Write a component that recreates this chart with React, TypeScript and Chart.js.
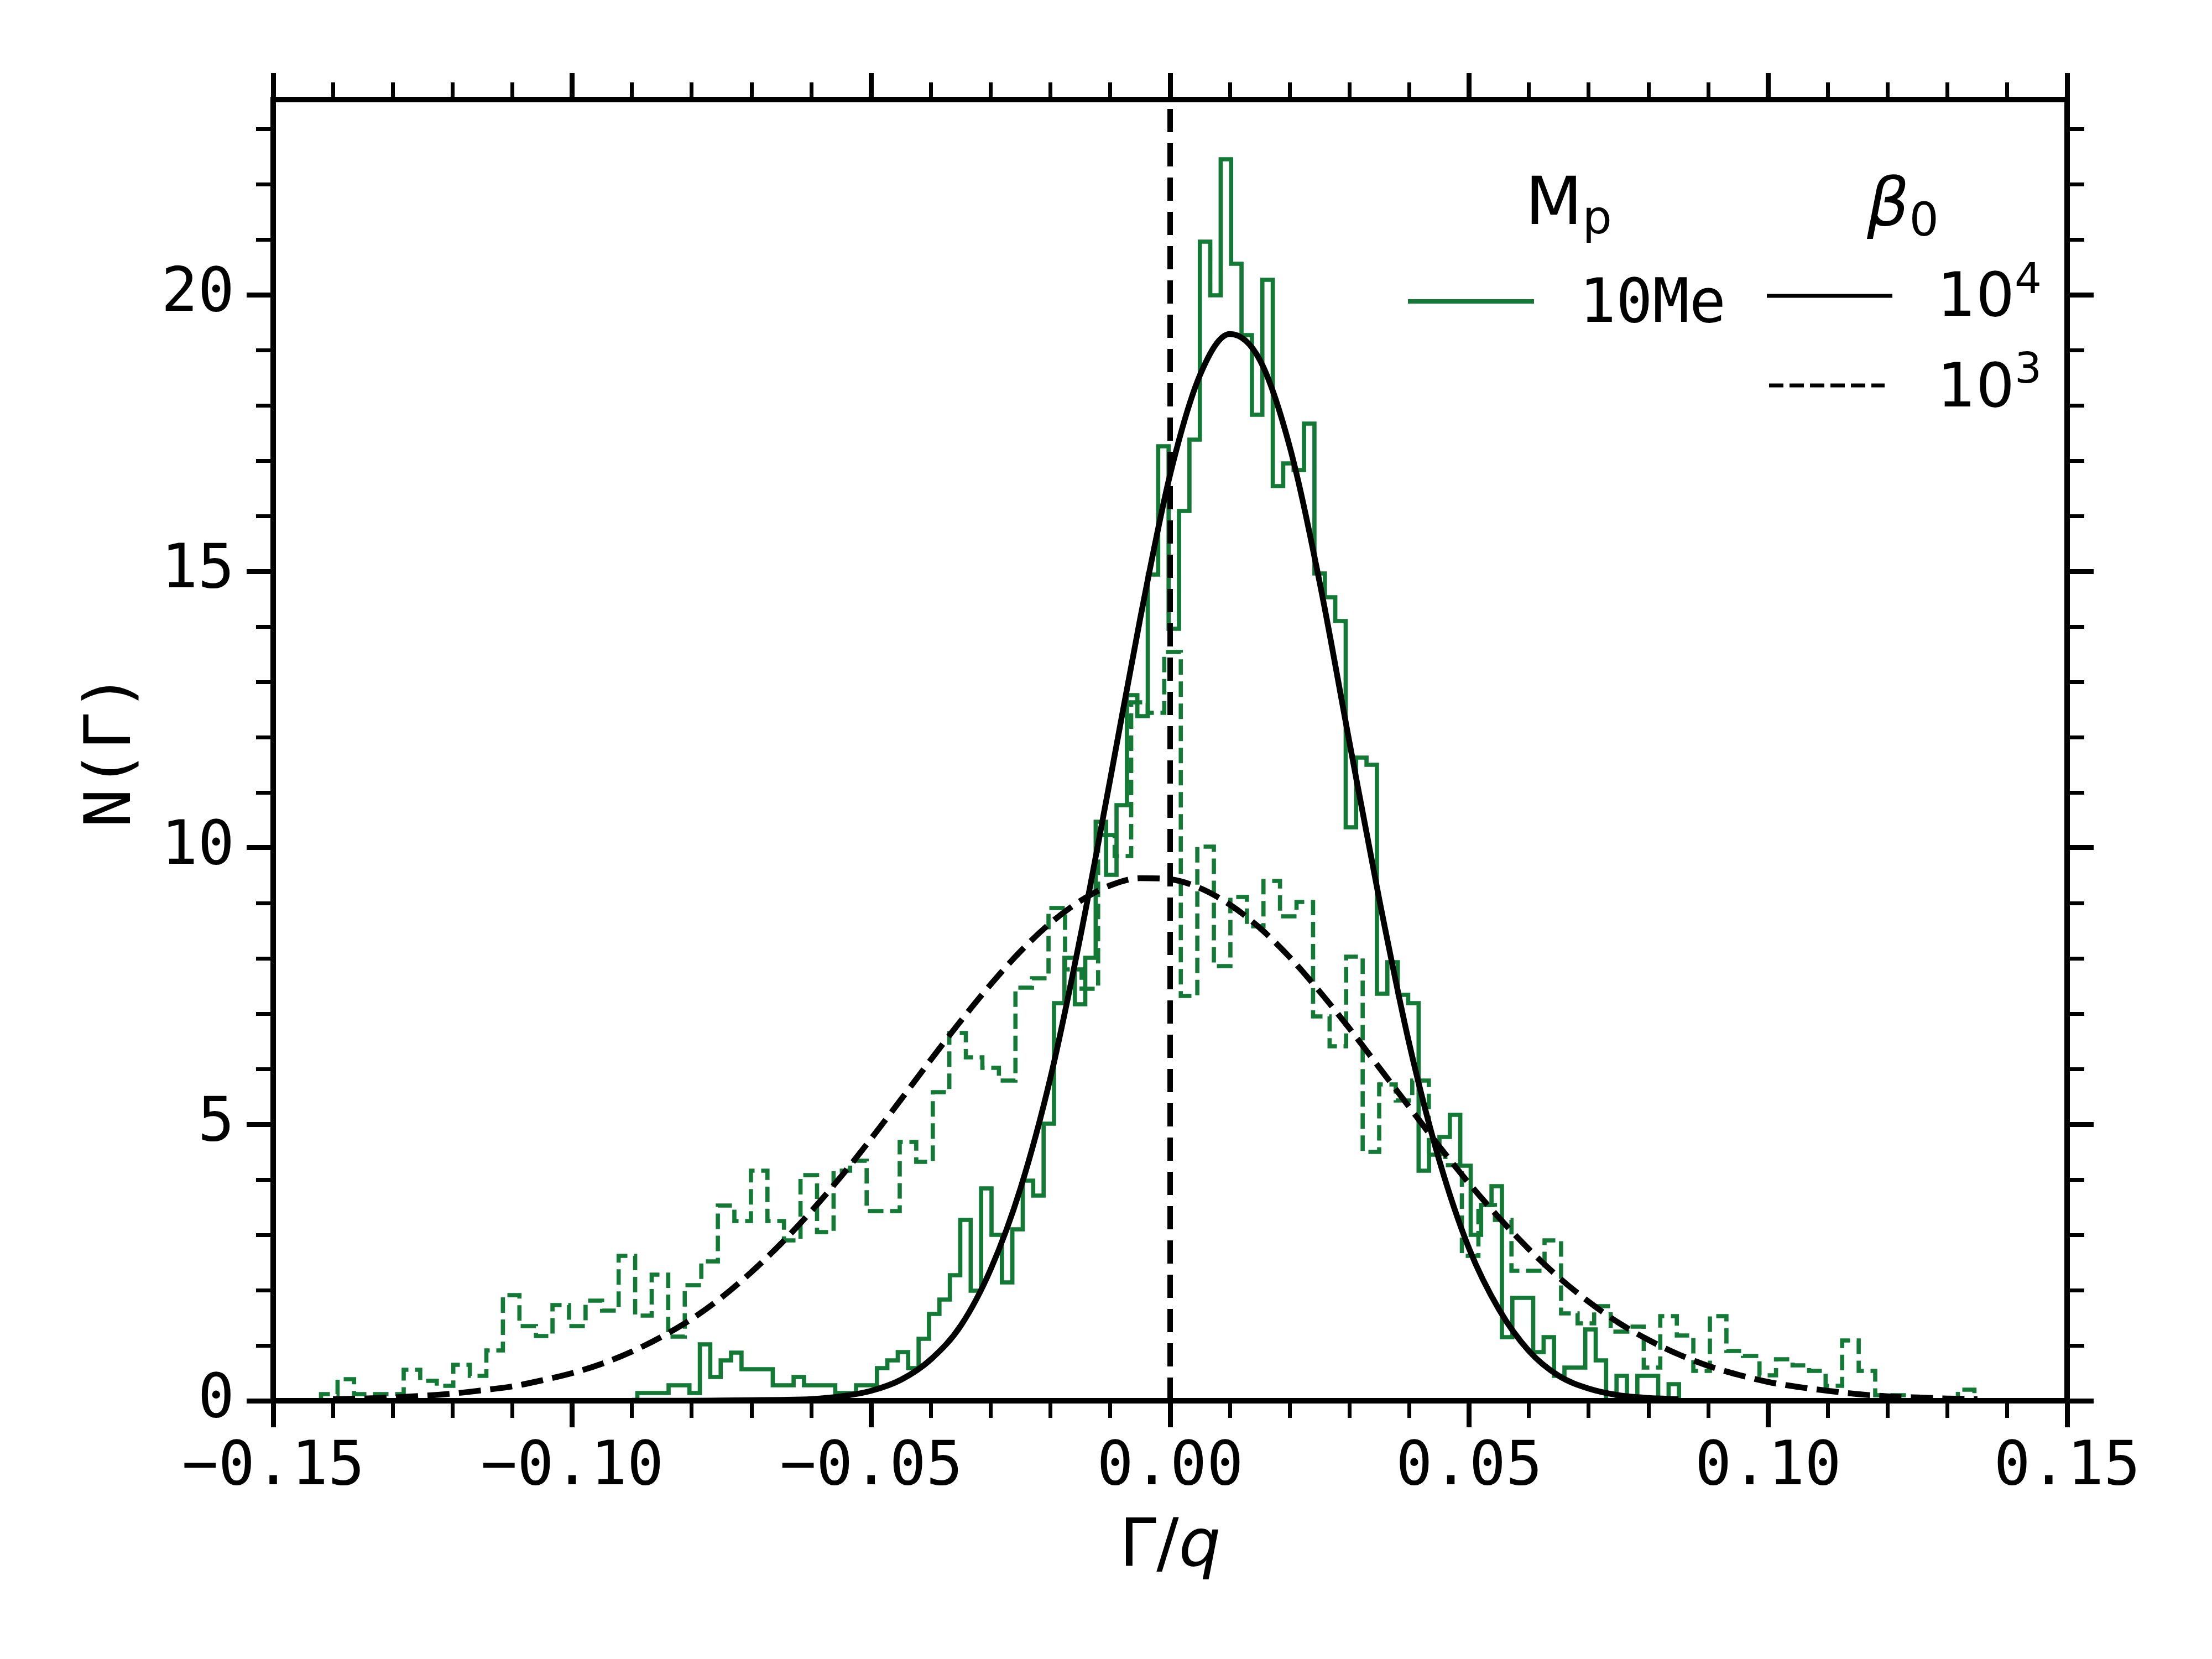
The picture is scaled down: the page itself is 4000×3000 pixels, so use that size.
import React, { useEffect, useRef } from 'react';
import { Chart, registerables } from 'chart.js';

Chart.register(...registerables);

// axis ranges
const X_MIN = -0.15;
const X_MAX = 0.15;
const Y_MIN = 0;
const Y_MAX = 23.53;

// tick positions
const X_MAJOR = [-0.15, -0.1, -0.05, 0, 0.05, 0.1, 0.15];
const X_MINOR = [
  -0.14, -0.13, -0.12, -0.11, -0.09, -0.08, -0.07, -0.06, -0.04, -0.03, -0.02, -0.01,
  0.01, 0.02, 0.03, 0.04, 0.06, 0.07, 0.08, 0.09, 0.11, 0.12, 0.13, 0.14,
];
const Y_MAJOR = [0, 5, 10, 15, 20];
const Y_MINOR = [1, 2, 3, 4, 6, 7, 8, 9, 11, 12, 13, 14, 16, 17, 18, 19, 21, 22, 23];

// histogram, beta0 = 1e4 (solid green), 100 bins
const HIST_1E4_START = -0.0891;
const HIST_1E4_WIDTH = 0.001742;
const HIST_1E4 = [
  0.14, 0.14, 0.14, 0.28, 0.28, 0.14, 1.02, 0.43, 0.73, 0.87,
  0.57, 0.57, 0.57, 0.28, 0.28, 0.43, 0.28, 0.28, 0.28, 0.14,
  0.14, 0.28, 0.28, 0.59, 0.73, 0.88, 0.59, 1.12, 1.57, 1.83,
  2.27, 3.27, 1.99, 3.84, 3.0, 2.14, 3.1, 3.98, 3.71, 5.01,
  7.19, 8.01, 7.17, 8.01, 10.47, 9.51, 10.77, 12.76, 12.38, 14.94,
  17.26, 13.96, 16.09, 17.38, 20.96, 19.99, 22.45, 20.56, 19.27, 17.83,
  20.27, 16.54, 16.95, 16.83, 17.67, 14.96, 14.53, 14.1, 10.37, 11.63,
  11.5, 7.36, 7.93, 7.34, 7.19, 4.16, 4.45, 4.77, 5.17, 4.25,
  3.0, 3.54, 3.88, 1.15, 1.86, 1.86, 0.88, 1.15, 0.45, 0.6,
  0.6, 1.29, 0.73, 0.0, 0.45, 0.0, 0.45, 0.45, 0.0, 0.3,
];

// histogram, beta0 = 1e3 (dashed green), 100 bins
const HIST_1E3_START = -0.142;
const HIST_1E3_WIDTH = 0.002765;
const HIST_1E3 = [
  0.12, 0.39, 0.12, 0.12, 0.12, 0.56, 0.36, 0.27, 0.65, 0.45,
  0.91, 1.91, 1.35, 1.17, 1.73, 1.35, 1.81, 1.63, 2.62, 1.54,
  2.28, 1.16, 2.09, 2.52, 3.53, 3.25, 4.16, 3.25, 2.9, 4.08,
  3.05, 4.16, 4.34, 3.43, 3.43, 4.68, 4.32, 5.58, 6.65, 6.21,
  6.02, 5.79, 7.47, 7.64, 8.91, 7.8, 7.45, 10.23, 9.85, 12.63,
  12.44, 13.54, 7.32, 10.02, 7.86, 9.11, 8.58, 9.4, 8.76, 9.02,
  6.95, 6.41, 8.03, 4.5, 5.72, 5.43, 5.79, 4.46, 4.26, 2.62,
  3.54, 3.27, 2.35, 2.35, 2.9, 1.58, 1.4, 1.71, 1.25, 1.34,
  0.6, 1.53, 1.18, 0.54, 1.53, 0.9, 0.81, 0.46, 0.75, 0.64,
  0.54, 0.27, 1.09, 0.54, 0.1, 0.1, 0.0, 0.0, 0.0, 0.2,
];

// fitted curves
const FIT_1E4_X = [
  -0.09, -0.085, -0.08, -0.075, -0.07, -0.065, -0.06, -0.055, -0.05, -0.045, -0.04, -0.035,
  -0.03, -0.025, -0.02, -0.015, -0.01, -0.005, 0, 0.005, 0.01, 0.015, 0.02, 0.025, 0.03,
  0.035, 0.04, 0.045, 0.05, 0.055, 0.06, 0.065, 0.07, 0.075, 0.08, 0.085,
];
const FIT_1E4_Y = [
  0.0, 0.0, 0.0, 0.005, 0.01, 0.015, 0.03, 0.08, 0.18, 0.38, 0.75, 1.36,
  2.38, 3.85, 5.85, 8.4, 11.25, 14.15, 16.75, 18.55, 19.29, 18.82, 17.25, 14.8, 11.9,
  9.05, 6.45, 4.35, 2.75, 1.65, 0.9, 0.45, 0.22, 0.1, 0.05, 0.03,
];
const FIT_1E3_X = [
  -0.14, -0.135, -0.13, -0.125, -0.12, -0.115, -0.11, -0.105, -0.1, -0.095, -0.09, -0.085,
  -0.08, -0.075, -0.07, -0.065, -0.06, -0.055, -0.05, -0.045, -0.04, -0.035, -0.03, -0.025,
  -0.02, -0.015, -0.01, -0.005, 0, 0.005, 0.01, 0.015, 0.02, 0.025, 0.03, 0.035, 0.04, 0.045,
  0.05, 0.055, 0.06, 0.065, 0.07, 0.075, 0.08, 0.085, 0.09, 0.095, 0.1, 0.105, 0.11, 0.115,
  0.12, 0.125, 0.13, 0.135,
];
const FIT_1E3_Y = [
  0.03, 0.04, 0.06, 0.09, 0.13, 0.19, 0.26, 0.37, 0.5, 0.67, 0.89, 1.16,
  1.48, 1.87, 2.33, 2.85, 3.43, 4.06, 4.74, 5.45, 6.17, 6.87, 7.53, 8.13,
  8.64, 9.04, 9.32, 9.45, 9.43, 9.27, 8.97, 8.55, 8.02, 7.4, 6.73, 6.02, 5.31, 4.6,
  3.93, 3.31, 2.74, 2.23, 1.79, 1.41, 1.1, 0.84, 0.63, 0.47, 0.34, 0.25, 0.18, 0.12,
  0.08, 0.06, 0.04, 0.03,
];

const ZERO_LINE_X = 0;

const GREEN = '#137a35';
const BLACK = '#000000';
const MONO = '"DejaVu Sans Mono"';
const SANS = '"DejaVu Sans"';

// step outline like matplotlib histtype='step'
function stepOutline(start: number, width: number, counts: number[]) {
  const pts = [{ x: start, y: 0 }];
  counts.forEach((c, i) => pts.push({ x: start + i * width, y: c }));
  pts.push({ x: start + counts.length * width, y: 0 });
  return pts;
}

function zip(xs: number[], ys: number[]) {
  return xs.map((x, i) => ({ x, y: ys[i] }));
}

const fmtX = (v: number) => (v < -1e-9 ? '\u2212' : '') + Math.abs(v).toFixed(2);

// one scale per side for the major ticks and a zero-size one for the minor ticks
function edgeScale(position: string, major: boolean, boxSize: number, labels: boolean) {
  const horizontal = position === 'bottom' || position === 'top';
  const values = horizontal ? (major ? X_MAJOR : X_MINOR) : major ? Y_MAJOR : Y_MINOR;
  return {
    type: 'linear',
    position,
    min: horizontal ? X_MIN : Y_MIN,
    max: horizontal ? X_MAX : Y_MAX,
    weight: major ? 10 : 0,
    afterBuildTicks: (scale: any) => {
      scale.ticks = values.map((value) => ({ value }));
    },
    afterFit: (scale: any) => {
      if (horizontal) scale.height = boxSize;
      else scale.width = boxSize;
    },
    grid: {
      display: true,
      drawOnChartArea: false,
      drawTicks: true,
      tickLength: major ? 48 : 31,
      tickWidth: major ? 9 : 7,
      lineWidth: major ? 9 : 7,
      color: BLACK,
      tickColor: BLACK,
      z: 1,
    },
    border: { display: major, color: BLACK, width: 10, z: 1 },
    ticks: labels
      ? {
          display: true,
          color: BLACK,
          font: { family: 'DejaVu Sans Mono', size: 110, lineHeight: 1 },
          padding: horizontal ? 19 : 22,
          maxRotation: 0,
          minRotation: 0,
          autoSkip: false,
          callback: horizontal ? (v: any) => fmtX(Number(v)) : (v: any) => String(v),
        }
      : { display: false },
  };
}

// axis titles and the two-column legend
const decorations = {
  id: 'decorations',
  afterDraw(chart: any) {
    const { ctx, chartArea } = chart;
    const { left, right, top, bottom } = chartArea;
    ctx.save();
    ctx.fillStyle = BLACK;
    ctx.textBaseline = 'alphabetic';
    ctx.textAlign = 'left';

    // x title: Γ/q with italic q
    const parts: [string, string][] = [
      ['Γ', `120px ${SANS}`],
      ['/', `120px ${SANS}`],
      ['q', `italic 120px ${SANS}`],
    ];
    let total = 0;
    parts.forEach(([t, f]) => {
      ctx.font = f;
      total += ctx.measureText(t).width;
    });
    let cx = (left + right) / 2 - total / 2;
    parts.forEach(([t, f]) => {
      ctx.font = f;
      ctx.fillText(t, cx, bottom + 298);
      cx += ctx.measureText(t).width;
    });

    // y title
    ctx.save();
    ctx.translate(left - 259, (top + bottom) / 2);
    ctx.rotate(-Math.PI / 2);
    ctx.font = `116px ${MONO}`;
    ctx.textAlign = 'center';
    ctx.fillText('N(Γ)', 0, 0);
    ctx.restore();

    // legend handles
    const handle = (x1: number, x2: number, y: number, color: string, w: number, dash: number[]) => {
      ctx.beginPath();
      ctx.strokeStyle = color;
      ctx.lineWidth = w;
      ctx.lineCap = 'butt';
      ctx.setLineDash(dash);
      ctx.moveTo(x1, y);
      ctx.lineTo(x2, y);
      ctx.stroke();
    };
    handle(right - 1192, right - 964, top + 365, GREEN, 8, []);
    handle(right - 543, right - 316, top + 355, BLACK, 7, []);
    handle(right - 539, right - 330, top + 517, BLACK, 7, [26, 11]);
    ctx.setLineDash([]);

    // legend titles
    let w = 0;
    ctx.font = `120px ${SANS}`;
    ctx.fillText('M', right - 980, top + 225);
    w = ctx.measureText('M').width;
    ctx.font = `84px ${SANS}`;
    ctx.fillText('p', right - 980 + w, top + 242);

    ctx.font = `italic 120px ${SANS}`;
    ctx.fillText('β', right - 362, top + 227);
    w = ctx.measureText('β').width;
    ctx.font = `84px ${SANS}`;
    ctx.fillText('0', right - 362 + w, top + 246);

    // legend labels
    ctx.font = `110px ${MONO}`;
    ctx.fillText('10Me', right - 882, top + 402);

    ctx.font = `110px ${SANS}`;
    ctx.fillText('10', right - 235, top + 391);
    w = ctx.measureText('10').width;
    ctx.font = `77px ${SANS}`;
    ctx.fillText('4', right - 235 + w, top + 350);

    ctx.font = `110px ${SANS}`;
    ctx.fillText('10', right - 235, top + 555);
    ctx.font = `77px ${SANS}`;
    ctx.fillText('3', right - 235 + w, top + 512);

    ctx.restore();
  },
};

const App: React.FC = () => {
  const canvasRef = useRef<HTMLCanvasElement | null>(null);
  const chartRef = useRef<Chart | null>(null);

  useEffect(() => {
    if (!canvasRef.current) return;
    if (chartRef.current) chartRef.current.destroy();

    chartRef.current = new Chart(canvasRef.current, {
      type: 'line',
      data: {
        datasets: [
          {
            label: 'zero',
            data: [
              { x: ZERO_LINE_X, y: Y_MIN },
              { x: ZERO_LINE_X, y: Y_MAX },
            ],
            borderColor: BLACK,
            borderWidth: 10,
            borderDash: [42, 20],
            pointRadius: 0,
          },
          {
            label: 'fit 1e4',
            data: zip(FIT_1E4_X, FIT_1E4_Y),
            borderColor: BLACK,
            borderWidth: 10.5,
            cubicInterpolationMode: 'monotone',
            pointRadius: 0,
          },
          {
            label: 'fit 1e3',
            data: zip(FIT_1E3_X, FIT_1E3_Y),
            borderColor: BLACK,
            borderWidth: 10.5,
            borderDash: [40, 17],
            cubicInterpolationMode: 'monotone',
            pointRadius: 0,
          },
          {
            label: '10Me, 1e4',
            data: stepOutline(HIST_1E4_START, HIST_1E4_WIDTH, HIST_1E4),
            borderColor: GREEN,
            borderWidth: 7.6,
            stepped: true,
            borderJoinStyle: 'miter',
            pointRadius: 0,
          },
          {
            label: '10Me, 1e3',
            data: stepOutline(HIST_1E3_START, HIST_1E3_WIDTH, HIST_1E3),
            borderColor: GREEN,
            borderWidth: 7.6,
            borderDash: [28, 12],
            stepped: true,
            borderJoinStyle: 'miter',
            pointRadius: 0,
          },
        ],
      },
      options: {
        responsive: false,
        maintainAspectRatio: false,
        devicePixelRatio: 1,
        animation: false,
        events: [],
        layout: { padding: 0 },
        plugins: {
          legend: { display: false },
          tooltip: { enabled: false },
        },
        scales: {
          x: edgeScale('bottom', true, 467, true),
          y: edgeScale('left', true, 494, true),
          xMinor: edgeScale('bottom', false, 0, false),
          yMinor: edgeScale('left', false, 0, false),
          xTop: edgeScale('top', true, 180, false),
          xTopMinor: edgeScale('top', false, 0, false),
          yRight: edgeScale('right', true, 262, false),
          yRightMinor: edgeScale('right', false, 0, false),
        } as any,
      },
      plugins: [decorations],
    } as any);

    return () => {
      if (chartRef.current) {
        chartRef.current.destroy();
        chartRef.current = null;
      }
    };
  }, []);

  return (
    <div style={{ position: 'absolute', left: 0, top: 0, width: 4000, height: 3000, background: '#ffffff' }}>
      <canvas ref={canvasRef} width={4000} height={3000} style={{ display: 'block', width: 4000, height: 3000 }} />
    </div>
  );
};

export default App;
